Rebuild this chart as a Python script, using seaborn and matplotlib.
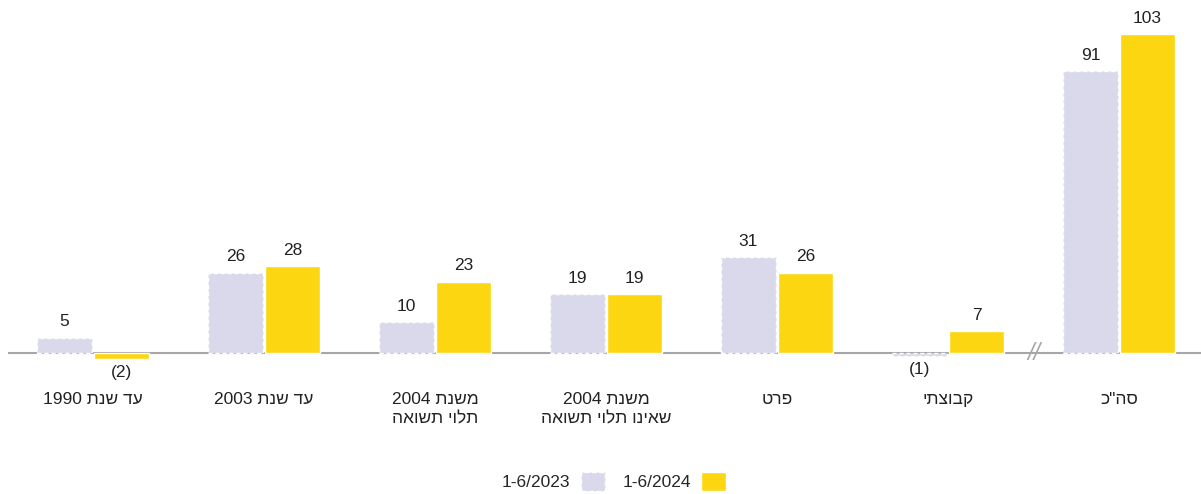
import matplotlib
matplotlib.use("Agg")
import matplotlib.pyplot as plt
from matplotlib.patches import Patch
import pandas as pd
import seaborn as sns

# data
categories = ["עד שנת 1990", "עד שנת 2003", "משנת 2004\nתלוי תשואה",
              "משנת 2004\nשאינו תלוי תשואה", "פרט", "קבוצתי", 'סה"כ']
periods = ["1-6/2023", "1-6/2024"]
values_2023 = [5, 26, 10, 19, 31, -1, 91]
values_2024 = [-2, 28, 23, 19, 26, 7, 103]

colors = ["#DAD9EB", "#FCD610"]
axis_gray = "#A6A6A6"


def visual(text):
    # matplotlib has no bidi support: reorder the Hebrew words for display
    lines = []
    for line in text.split("\n"):
        words = line.split(" ")
        out = []
        for w in reversed(words):
            if any("\u0590" <= c <= "\u05FF" for c in w):
                out.append(w[::-1])
            else:
                out.append(w)
        lines.append(" ".join(out))
    return "\n".join(lines)


df = pd.DataFrame({
    "category": categories * 2,
    "period": [periods[0]] * len(categories) + [periods[1]] * len(categories),
    "value": values_2023 + values_2024,
})

sns.set_style("white")
plt.rcParams["font.family"] = ["Liberation Sans", "DejaVu Sans"]

fig = plt.figure(figsize=(12.01, 4.94), dpi=100)
ax = fig.add_axes([7.5 / 1201, 0.254, 1197 / 1201, 0.746])

sns.barplot(data=df, x="category", y="value", hue="period", order=categories,
            hue_order=periods, palette=colors, width=0.667, gap=0.03,
            saturation=1, legend=False, ax=ax)

# dashed white edge on the 2023 bars
for bar in ax.containers[0]:
    bar.set_edgecolor("white")
    bar.set_linestyle((0, (3, 2)))
    bar.set_linewidth(1)

for cont in ax.containers:
    for bar, v in zip(cont, cont.datavalues):
        x = bar.get_x() + bar.get_width() / 2
        if v >= 0:
            ax.annotate(f"{v:g}", (x, v), xytext=(0, 6), textcoords="offset points",
                        ha="center", va="bottom", fontsize=12.5, color="#222222")
        else:
            ax.annotate(f"({-v:g})", (x, v), xytext=(0, -4), textcoords="offset points",
                        ha="center", va="top", fontsize=12.5, color="#222222")

ax.axhline(0, color=axis_gray, lw=1.5, zorder=0.5)
ax.text(5.5, 0, "//", ha="center", va="center", fontsize=17, color=axis_gray,
        fontstyle="italic")

ax.set_xlim(-0.5, len(categories) - 0.5)
ax.set_ylim(-5, 114)
ax.set_xticks(range(len(categories)))
ax.set_xticklabels([visual(c) for c in categories], fontsize=12.5, color="#222222",
                   multialignment="center", linespacing=1.4)
ax.tick_params(axis="x", length=0, pad=17)
ax.set_yticks([])
ax.set_xlabel("")
ax.set_ylabel("")
for s in ax.spines.values():
    s.set_visible(False)

handles = [Patch(facecolor=colors[0], edgecolor="white", linestyle="--"),
           Patch(facecolor=colors[1])]
fig.legend(handles, periods, loc="center", bbox_to_anchor=(0.511, 0.025), ncol=2,
           markerfirst=False, frameon=False, fontsize=12.5, handlelength=1.4,
           handleheight=1.3, handletextpad=0.6, columnspacing=1.0)

fig.savefig("out.png", dpi=100)
